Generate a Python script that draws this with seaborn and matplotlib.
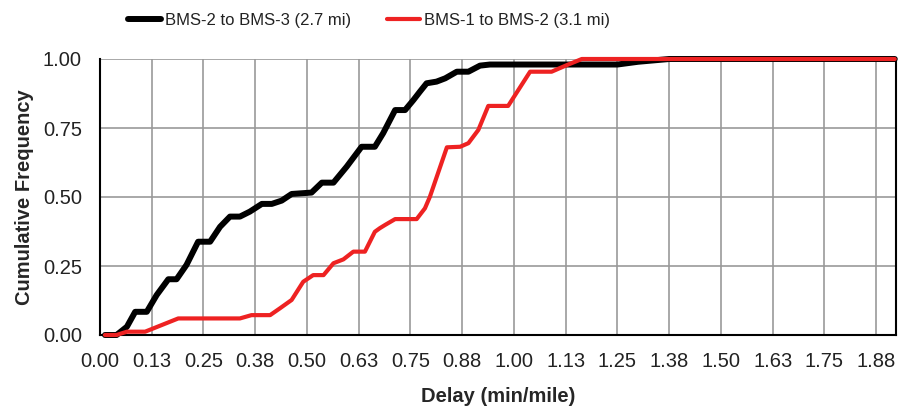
import pandas as pd
import matplotlib
matplotlib.use('Agg')
import matplotlib.pyplot as plt
import seaborn as sns

# Valores (atraso em min/milha vs frequência acumulada)
black_x = [0.012, 0.040, 0.065, 0.085, 0.113, 0.137, 0.165, 0.185, 0.209, 0.237,
           0.266, 0.290, 0.314, 0.338, 0.362, 0.391, 0.415, 0.439, 0.463, 0.511,
           0.536, 0.564, 0.596, 0.632, 0.664, 0.684, 0.713, 0.737, 0.757, 0.773,
           0.789, 0.813, 0.834, 0.862, 0.890, 0.918, 0.942, 1.250, 1.300, 1.375, 1.920]
black_y = [0.0, 0.0, 0.03, 0.084, 0.084, 0.145, 0.202, 0.202, 0.254, 0.338,
           0.338, 0.392, 0.429, 0.429, 0.447, 0.475, 0.475, 0.487, 0.511, 0.516,
           0.552, 0.552, 0.610, 0.682, 0.682, 0.731, 0.815, 0.815, 0.851, 0.882,
           0.912, 0.918, 0.930, 0.954, 0.954, 0.976, 0.980, 0.980, 0.990, 1.0, 1.0]

red_x = [0.012, 0.040, 0.065, 0.109, 0.149, 0.189, 0.338, 0.366, 0.411, 0.435,
         0.463, 0.491, 0.515, 0.540, 0.564, 0.588, 0.612, 0.640, 0.664, 0.676,
         0.689, 0.713, 0.765, 0.785, 0.797, 0.838, 0.870, 0.890, 0.914, 0.938,
         0.986, 1.039, 1.091, 1.128, 1.164, 1.920]
red_y = [0.0, 0.0, 0.012, 0.012, 0.036, 0.060, 0.060, 0.072, 0.072, 0.097,
         0.127, 0.193, 0.217, 0.217, 0.260, 0.274, 0.302, 0.302, 0.374, 0.387,
         0.399, 0.420, 0.420, 0.459, 0.501, 0.680, 0.682, 0.695, 0.743, 0.830,
         0.830, 0.954, 0.954, 0.978, 1.0, 1.0]

x_ticks = [0.0, 0.125, 0.25, 0.375, 0.5, 0.625, 0.75, 0.875, 1.0, 1.125,
           1.25, 1.375, 1.5, 1.625, 1.75, 1.875]
x_tick_labels = ['0.00', '0.13', '0.25', '0.38', '0.50', '0.63', '0.75', '0.88',
                 '1.00', '1.13', '1.25', '1.38', '1.50', '1.63', '1.75', '1.88']
y_ticks = [0.0, 0.25, 0.5, 0.75, 1.0]
y_tick_labels = ['0.00', '0.25', '0.50', '0.75', '1.00']

df_black = pd.DataFrame({'Delay': black_x, 'Freq': black_y})
df_red = pd.DataFrame({'Delay': red_x, 'Freq': red_y})

sns.set_style('white')
plt.rcParams['font.family'] = ['Liberation Sans', 'DejaVu Sans']

fig = plt.figure(figsize=(9.04, 4.07), dpi=100)
ax = fig.add_axes([100 / 904, 1 - 335 / 407, 796 / 904, 276 / 407])

sns.lineplot(x='Delay', y='Freq', data=df_black, color='black', linewidth=4.3,
             label='BMS-2 to BMS-3 (2.7 mi)', ax=ax, clip_on=False, zorder=3)
sns.lineplot(x='Delay', y='Freq', data=df_red, color='#ee2222', linewidth=3.0,
             label='BMS-1 to BMS-2 (3.1 mi)', ax=ax, clip_on=False, zorder=4)

ax.set_xlim(0, 1.923)
ax.set_ylim(0, 1.0)
ax.set_xticks(x_ticks)
ax.set_xticklabels(x_tick_labels)
ax.set_yticks(y_ticks)
ax.set_yticklabels(y_tick_labels)
ax.grid(True, color='#999999', linewidth=1.2)
ax.set_axisbelow(True)

for side in ['left', 'bottom', 'right']:
    ax.spines[side].set_color('black')
    ax.spines[side].set_linewidth(1.5)
ax.spines['top'].set_visible(False)

ax.tick_params(axis='both', direction='out', length=5, width=1.2, color='black',
               labelsize=14.5, labelcolor='#222222')
ax.tick_params(axis='y', pad=8)
ax.tick_params(axis='x', pad=7)

ax.set_xlabel('Delay (min/mile)', fontsize=14.5, fontweight='bold')
ax.set_ylabel('Cumulative Frequency', fontsize=14.5, fontweight='bold')
ax.xaxis.set_label_coords(0.5, -0.19)
ax.yaxis.set_label_coords(-0.083, 0.5)

leg = ax.legend(loc='center', bbox_to_anchor=(369 / 904, 1 - 20 / 407),
                bbox_transform=fig.transFigure, ncol=2, frameon=False, fontsize=12,
                handlelength=2.0, handletextpad=0.25, columnspacing=2.1)
for t in leg.get_texts():
    t.set_color('#222222')

fig.savefig('out.png', dpi=100)
plt.close()
